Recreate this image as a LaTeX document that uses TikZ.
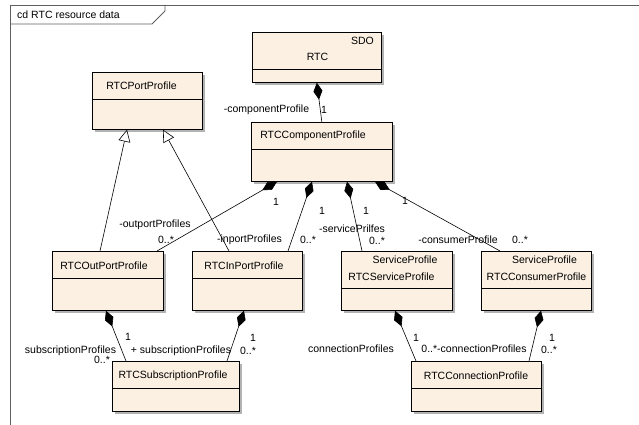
\documentclass[tikz,border=0pt]{standalone}
\usepackage{fontspec}
\setmainfont{Liberation Sans}
\usetikzlibrary{arrows.meta,shadows}
\definecolor{classfill}{RGB}{251,240,226}
\definecolor{framegray}{RGB}{95,95,95}
\tikzset{
  classbox/.style={draw, line width=0.7pt, fill=classfill, anchor=north west, inner sep=0pt,
    drop shadow={shadow xshift=3pt, shadow yshift=-3pt, fill=black, opacity=0.3}},
  classname/.style={inner sep=0pt, font=\fontsize{10.5}{12}\selectfont},
  lbl/.style={inner sep=0pt, font=\fontsize{10.5}{12}\selectfont},
  composite/.style={line width=0.6pt, arrows={Diamond[length=17pt,width=9pt]-}},
  generalize/.style={line width=0.6pt, arrows={-Triangle[open,length=12pt,width=12pt,fill=white]}},
}

\begin{document}
\begin{tikzpicture}[x=1pt, y=-1pt]
      \useasboundingbox (0,0) rectangle (639,425);
      % frame
      \draw[framegray, line width=0.8pt] (10,425) -- (10,5) -- (639,5);
      \draw[framegray, line width=0.8pt] (10,24) -- (152,24) -- (165,11) -- (165,5);
      \node[lbl] (title) at (68.5,15) {cd RTC resource data};
      % RTC
      \node[classbox, minimum width=129pt, minimum height=50pt] (rtc) at (252,32) {};
      \draw ([yshift=-37pt]rtc.north west) -- ([yshift=-37pt]rtc.north east);
      \node[classname] (rtcsdo) at (362.5,41) {SDO};
      \node[classname] (rtcname) at (317.5,57) {RTC};
      % RTCPortProfile
      \node[classbox, minimum width=110pt, minimum height=57pt] (port) at (92,72) {};
      \draw ([yshift=-27pt]port.north west) -- ([yshift=-27pt]port.north east);
      \node[classname] (portname) at (141.5,86) {RTCPortProfile};
      % RTCComponentProfile
      \node[classbox, minimum width=141pt, minimum height=59pt] (comp) at (251,122) {};
      \draw ([yshift=-27pt]comp.north west) -- ([yshift=-27pt]comp.north east);
      \node[classname] (compname) at (313,136) {RTCComponentProfile};
      % RTCOutPortProfile / RTCInPortProfile
      \node[classbox, minimum width=111pt, minimum height=59pt] (out) at (52,251) {};
      \draw ([yshift=-27pt]out.north west) -- ([yshift=-27pt]out.north east);
      \node[classname] (outname) at (104,266) {RTCOutPortProfile};
      \node[classbox, minimum width=110pt, minimum height=59pt] (in) at (192,251) {};
      \draw ([yshift=-27pt]in.north west) -- ([yshift=-27pt]in.north east);
      \node[classname] (inname) at (244,266) {RTCInPortProfile};
      % RTCServiceProfile / RTCConsumerProfile
      \node[classbox, minimum width=111pt, minimum height=59pt] (svc) at (341,251) {};
      \draw ([yshift=-37pt]svc.north west) -- ([yshift=-37pt]svc.north east);
      \node[classname] (svcpkg) at (405,260) {ServiceProfile};
      \node[classname] (svcname) at (391.5,277) {RTCServiceProfile};
      \node[classbox, minimum width=110pt, minimum height=59pt] (cons) at (481,251) {};
      \draw ([yshift=-37pt]cons.north west) -- ([yshift=-37pt]cons.north east);
      \node[classname] (conspkg) at (544.5,260) {ServiceProfile};
      \node[classname] (consname) at (536.5,277) {RTCConsumerProfile};
      % RTCSubscriptionProfile / RTCConnectionProfile
      \node[classbox, minimum width=127pt, minimum height=50pt] (sub) at (112,361) {};
      \draw ([yshift=-27pt]sub.north west) -- ([yshift=-27pt]sub.north east);
      \node[classname] (subname) at (173,376) {RTCSubscriptionProfile};
      \node[classbox, minimum width=130pt, minimum height=50pt] (conn) at (411,361) {};
      \draw ([yshift=-27pt]conn.north west) -- ([yshift=-27pt]conn.north east);
      \node[classname] (connname) at (476,376) {RTCConnectionProfile};
      % generalization
      \draw[generalize] ([xshift=48pt]out.north west) -- ([xshift=35pt]port.south west);
      \draw[generalize] ([xshift=37pt]in.north west) -- ([xshift=71pt]port.south west);
      % composition
      \draw[composite] (rtc.south) -- (comp.north);
      \draw[composite] ([xshift=26pt]comp.south west) -- ([xshift=105pt]out.north west);
      \draw[composite] ([xshift=61pt]comp.south west) -- ([xshift=96pt]in.north west);
      \draw[composite] ([xshift=96pt]comp.south west) -- ([xshift=21pt]svc.north west);
      \draw[composite] ([xshift=124pt]comp.south west) -- ([xshift=19pt]cons.north west);
      \draw[composite] ([xshift=54pt]out.south west) -- ([xshift=14pt]sub.north west);
      \draw[composite] ([xshift=52pt]in.south west) -- ([xshift=115pt]sub.north west);
      \draw[composite] ([xshift=54pt]svc.south west) -- ([xshift=5pt]conn.north west);
      \draw[composite] ([xshift=60pt]cons.south west) -- ([xshift=118pt]conn.north west);
      % role names and multiplicities
      \node[lbl] (lcomp) at (266.5,110) {-componentProfile};
      \node[lbl] (mcomp) at (324,110) {1};
      \node[lbl] (mout1) at (276,202) {1};
      \node[lbl] (lout) at (155,225) {-outportProfiles};
      \node[lbl] (mout2) at (166,240) {0..*};
      \node[lbl] (lin) at (249.5,240) {-inportProfiles};
      \node[lbl] (min1) at (322,211) {1};
      \node[lbl] (min2) at (308,240) {0..*};
      \node[lbl] (msvc1) at (366,211) {1};
      \node[lbl] (lsvc) at (352,229) {-servicePrilfes};
      \node[lbl] (msvc2) at (377,241) {0..*};
      \node[lbl] (mcons1) at (405,201) {1};
      \node[lbl] (lcons) at (458,240) {-consumerProfile};
      \node[lbl] (mcons2) at (520,240) {0..*};
      \node[lbl] (msub1) at (128,337) {1};
      \node[lbl] (lsub1) at (70.5,351) {subscriptionProfiles};
      \node[lbl] (msub2) at (102,360) {0..*};
      \node[lbl] (lsub2) at (181,351) {+ subscriptionProfiles};
      \node[lbl] (msub3) at (253,338) {1};
      \node[lbl] (msub4) at (248,351) {0..*};
      \node[lbl] (lconn1) at (351,349) {connectionProfiles};
      \node[lbl] (mconn1) at (416,338) {1};
      \node[lbl] (lconn2) at (474,349) {0..*-connectionProfiles};
      \node[lbl] (mconn3) at (552,338) {1};
      \node[lbl] (mconn4) at (549,350) {0..*};
\end{tikzpicture}
\end{document}
